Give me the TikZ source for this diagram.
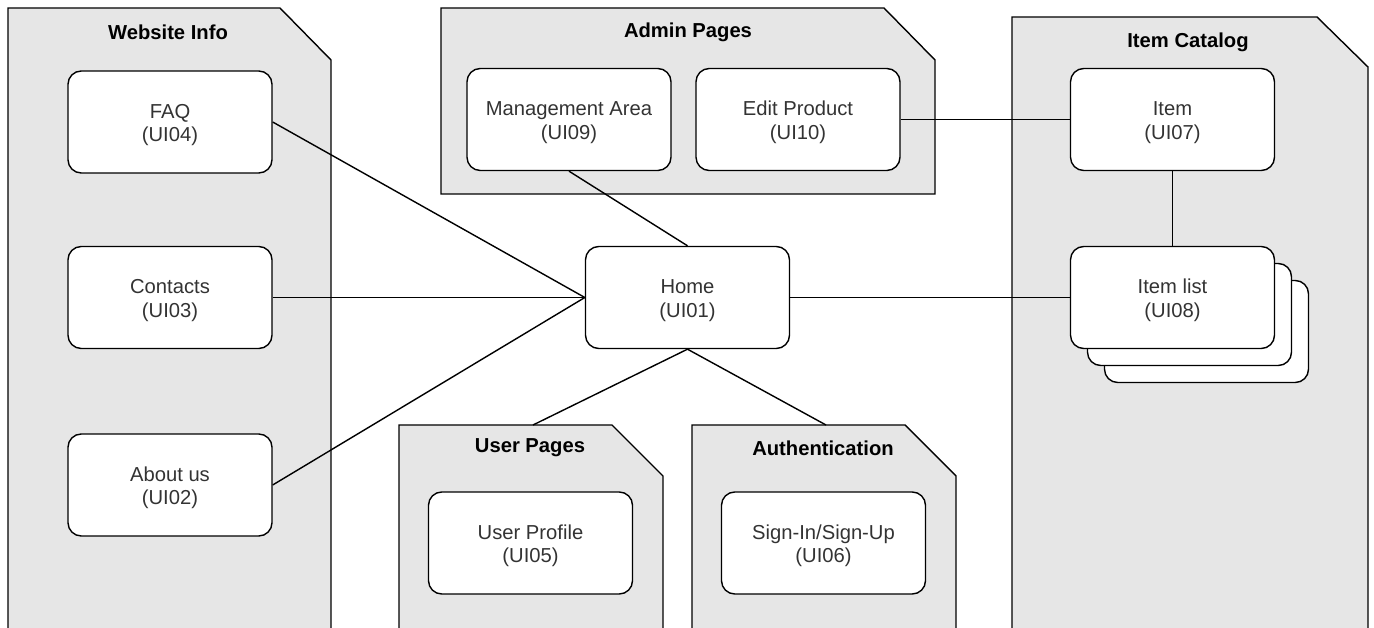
\documentclass[tikz,border=0pt]{standalone}
\usepackage{fontspec}
\setmainfont{Liberation Sans}
\definecolor{pkgfill}{HTML}{E6E6E6}
\definecolor{txt}{HTML}{333333}
\begin{document}
\begin{tikzpicture}[x=0.02cm,y=-0.02cm,
  pkg/.style={draw=black,fill=pkgfill,line width=0.8pt,line join=miter},
  box/.style={draw=black,fill=white,rounded corners=7.5pt,line width=0.8pt,
    minimum width=4.08cm,minimum height=2.04cm,align=center,inner sep=0pt,
    text height=25pt,font=\fontsize{11.5}{13.5}\selectfont,text=txt},
  ptitle/.style={font=\bfseries\fontsize{11.5}{13}\selectfont,text=black},
  conn/.style={draw=black,line width=0.8pt}]
\useasboundingbox (0,0) rectangle (1374,628);
\clip (0,0) rectangle (1374,628);
% packages
\draw[pkg] (8,660) -- (8,8) -- (280,8) -- (331,60) -- (331,660);
\draw[pkg] (441,194) -- (441,8) -- (884,8) -- (935,60) -- (935,194) -- cycle;
\draw[pkg] (1012,660) -- (1012,17) -- (1317,17) -- (1368,67) -- (1368,660);
\draw[pkg] (399,660) -- (399,425) -- (612,425) -- (663,476) -- (663,660);
\draw[pkg] (692,660) -- (692,425) -- (905,425) -- (956,476) -- (956,660);
\coordinate (uptop) at (533,425);
\coordinate (autop) at (826,425);
% titles
\node[ptitle] (t1) at (168,32) {Website Info};
\node[ptitle] (t2) at (688,32) {Admin Pages};
\node[ptitle] (t3) at (1188,42) {Item Catalog};
\node[ptitle] (t4) at (530,448) {User Pages};
\node[ptitle] (t5) at (823,448) {Authentication};
% boxes
\node[box] (faq) at (170,122) {FAQ\\(UI04)};
\node[box] (contacts) at (170,297.5) {Contacts\\(UI03)};
\node[box] (about) at (170,485) {About us\\(UI02)};
\node[box] (mgmt) at (569,119.5) {Management Area\\(UI09)};
\node[box] (edit) at (798,119.5) {Edit Product\\(UI10)};
\node[box] (item) at (1172.5,119.5) {Item\\(UI07)};
\node[box] (il3) at (1206.5,331.5) {};
\node[box] (il2) at (1189.5,314.5) {};
\node[box] (itemlist) at (1172.5,297.5) {Item list\\(UI08)};
\node[box] (home) at (687.5,297.5) {Home\\(UI01)};
\node[box] (profile) at (530.5,543) {User Profile\\(UI05)};
\node[box] (signin) at (823.5,543) {Sign-In/Sign-Up\\(UI06)};
% connectors
\draw[conn] (faq.east) -- (home.west);
\draw[conn] (contacts.east) -- (home.west);
\draw[conn] (about.east) -- (home.west);
\draw[conn] (mgmt.south) -- (home.north);
\draw[conn] (edit.east) -- (item.west);
\draw[conn] (item.south) -- (itemlist.north);
\draw[conn] (home.east) -- (itemlist.west);
\draw[conn] (home.south) -- (uptop);
\draw[conn] (home.south) -- (autop);
\end{tikzpicture}
\end{document}
